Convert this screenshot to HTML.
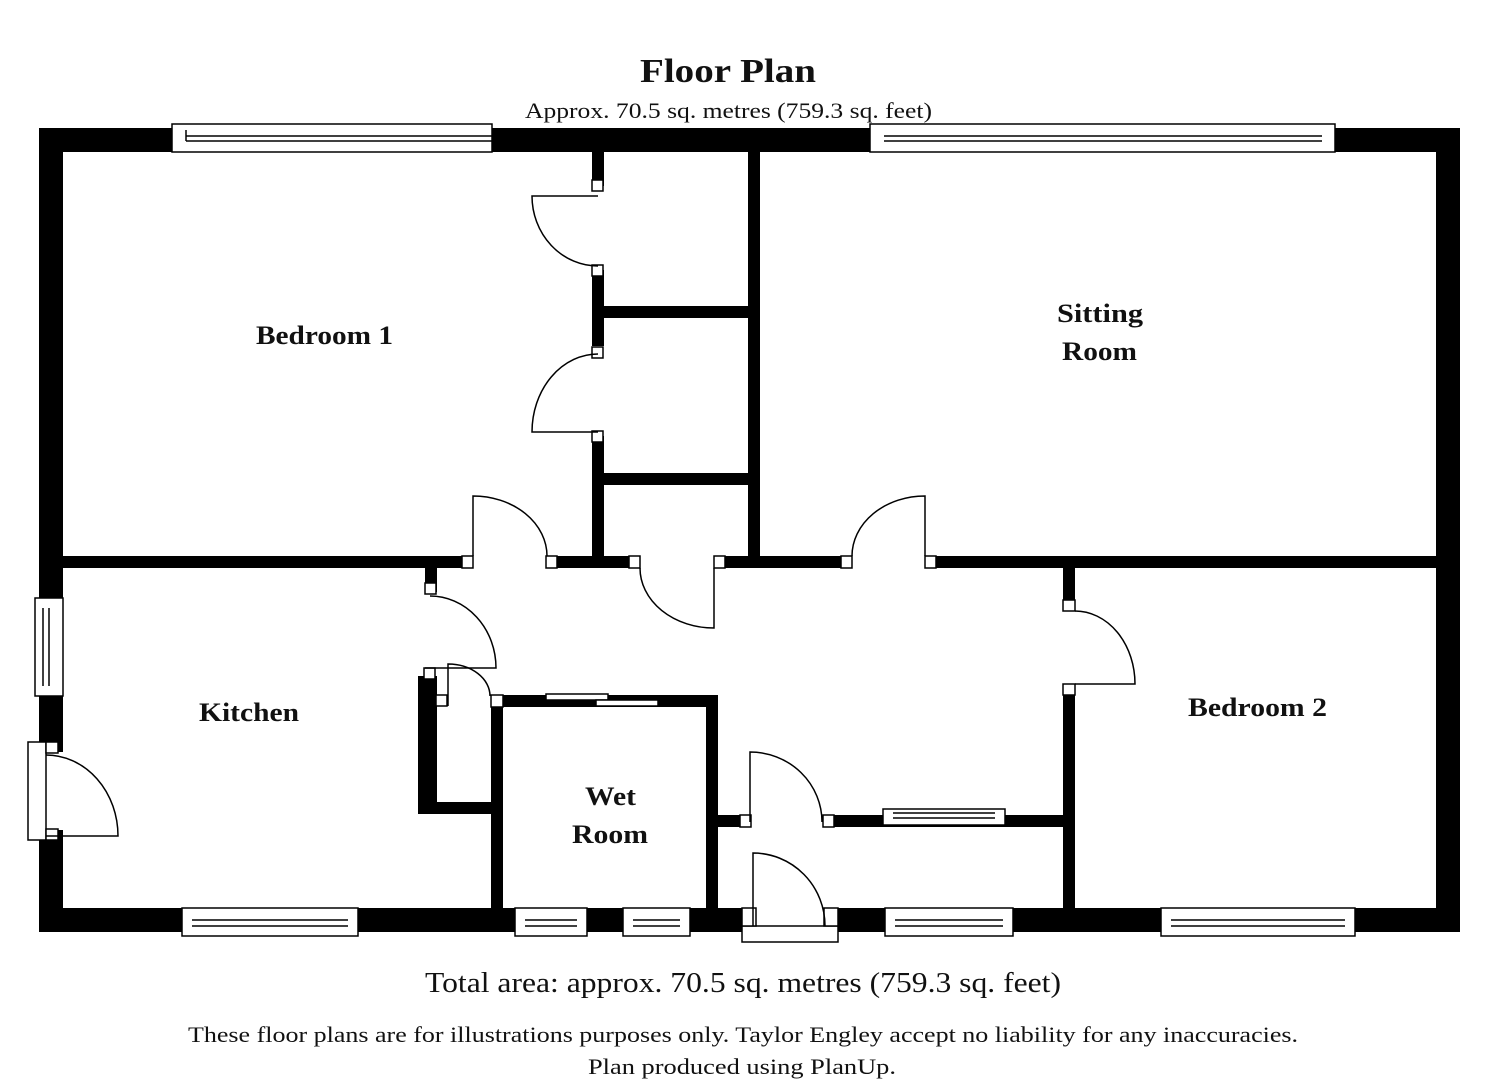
<!DOCTYPE html>
<html><head><style>
html,body{margin:0;padding:0;background:#fff;}
svg{display:block}
text{font-family:"Liberation Serif",serif;fill:#111}
</style></head><body>
<svg width="1485" height="1080" viewBox="0 0 1485 1080" xmlns="http://www.w3.org/2000/svg">
<text x="640" y="82" font-size="34" font-weight="bold" textLength="176" lengthAdjust="spacingAndGlyphs">Floor Plan</text>
<text x="525" y="118" font-size="22" textLength="407" lengthAdjust="spacingAndGlyphs">Approx.  70.5 sq. metres (759.3 sq. feet)</text>
<text x="425" y="992" font-size="28" textLength="636" lengthAdjust="spacingAndGlyphs">Total area: approx.  70.5 sq. metres (759.3 sq. feet)</text>
<text x="188" y="1042" font-size="22" textLength="1110" lengthAdjust="spacingAndGlyphs">These floor plans are for illustrations purposes only. Taylor Engley accept no liability for any inaccuracies.</text>
<text x="588" y="1074" font-size="22" textLength="308" lengthAdjust="spacingAndGlyphs">Plan produced using PlanUp.</text>

<g fill="#000">
<rect x="39" y="128" width="1421" height="24"/>
<rect x="39" y="908" width="1421" height="24"/>
<rect x="39" y="128" width="24" height="804"/>
<rect x="1436" y="128" width="24" height="804"/>
<rect x="63" y="556" width="410" height="12"/>
<rect x="548" y="556" width="92" height="12"/>
<rect x="714" y="556" width="138" height="12"/>
<rect x="932" y="556" width="504" height="12"/>
<rect x="592" y="152" width="12" height="34"/>
<rect x="592" y="270" width="12" height="76"/>
<rect x="592" y="436" width="12" height="126"/>
<rect x="604" y="306" width="146" height="12"/>
<rect x="604" y="473" width="146" height="12"/>
<rect x="748" y="152" width="12" height="404"/>
<rect x="1063" y="568" width="12" height="38"/>
<rect x="1063" y="690" width="12" height="218"/>
<rect x="425" y="568" width="12" height="24"/>
<rect x="418" y="676" width="19" height="138"/>
<rect x="418" y="802" width="80" height="12"/>
<rect x="491" y="695" width="12" height="213"/>
<rect x="491" y="695" width="227" height="12"/>
<rect x="706" y="695" width="12" height="213"/>
<rect x="718" y="815" width="22" height="12"/>
<rect x="828" y="815" width="235" height="12"/>
</g>
<g fill="#fff">
<rect x="754" y="906" width="72" height="22"/>
<rect x="46" y="752" width="19" height="78"/>
</g>

<g fill="#fff" stroke="#000" stroke-width="1.5">
<rect x="172" y="124" width="320" height="28"/>
<line x1="186" y1="136" x2="492" y2="136"/><line x1="186" y1="141" x2="492" y2="141"/><line x1="186" y1="130" x2="186" y2="141"/>
<rect x="870" y="124" width="465" height="28"/>
<line x1="884" y1="136" x2="1322" y2="136"/><line x1="884" y1="141" x2="1322" y2="141"/>
<rect x="182" y="908" width="176" height="28"/><line x1="192" y1="920" x2="348" y2="920"/><line x1="192" y1="926" x2="348" y2="926"/>
<rect x="515" y="908" width="72" height="28"/><line x1="525" y1="920" x2="577" y2="920"/><line x1="525" y1="926" x2="577" y2="926"/>
<rect x="623" y="908" width="67" height="28"/><line x1="633" y1="920" x2="680" y2="920"/><line x1="633" y1="926" x2="680" y2="926"/>
<rect x="885" y="908" width="128" height="28"/><line x1="895" y1="920" x2="1003" y2="920"/><line x1="895" y1="926" x2="1003" y2="926"/>
<rect x="1161" y="908" width="194" height="28"/><line x1="1171" y1="920" x2="1345" y2="920"/><line x1="1171" y1="926" x2="1345" y2="926"/>
<rect x="35" y="598" width="28" height="98"/><line x1="43" y1="608" x2="43" y2="686"/><line x1="49" y1="608" x2="49" y2="686"/>
<rect x="546" y="694" width="62" height="6"/><rect x="596" y="700" width="62" height="6"/>
<rect x="883" y="809" width="122" height="16"/><line x1="893" y1="813" x2="995" y2="813"/><line x1="893" y1="818" x2="995" y2="818"/>
<rect x="28" y="742" width="18" height="98"/>
<rect x="742" y="926" width="96" height="16"/>
<rect x="742" y="908" width="14" height="18"/><rect x="824" y="908" width="14" height="18"/>
<rect x="592" y="180" width="11" height="11"/><rect x="592" y="265" width="11" height="11"/>
<rect x="592" y="347" width="11" height="11"/><rect x="592" y="431" width="11" height="11"/>
<rect x="462" y="556" width="11" height="12"/><rect x="546" y="556" width="11" height="12"/>
<rect x="629" y="556" width="11" height="12"/><rect x="714" y="556" width="11" height="12"/>
<rect x="841" y="556" width="11" height="12"/><rect x="925" y="556" width="11" height="12"/>
<rect x="425" y="583" width="11" height="11"/><rect x="424" y="668" width="11" height="11"/>
<rect x="436" y="695" width="11" height="11"/><rect x="491" y="695" width="12" height="12"/>
<rect x="1063" y="600" width="12" height="11"/><rect x="1063" y="684" width="12" height="11"/>
<rect x="740" y="815" width="11" height="12"/><rect x="823" y="815" width="11" height="12"/>
<rect x="46" y="742" width="12" height="11"/><rect x="46" y="829" width="12" height="11"/>
</g>

<g fill="none" stroke="#000" stroke-width="1.5">
<path d="M598 196 H532 A66 70 0 0 0 598 266"/>
<path d="M598 432 H532 A66 78 0 0 1 598 354"/>
<path d="M473 556 V496 A74 60 0 0 1 547 556"/>
<path d="M714 568 V628 A74 60 0 0 1 640 568"/>
<path d="M925 556 V496 A73 60 0 0 0 852 556"/>
<path d="M430 596 A66 72 0 0 1 496 668 H425"/>
<path d="M448 706 V664 A42 32 0 0 1 490 696"/>
<path d="M1075 611 A60 73 0 0 1 1135 684 H1075"/>
<path d="M750 822 V752 A72 70 0 0 1 822 822"/>
<path d="M753 926 V853 A72 73 0 0 1 825 926"/>
<path d="M46 755 A72 81 0 0 1 118 836 H46"/>
</g>

<g font-size="26" font-weight="bold">
<text x="256" y="344" textLength="137" lengthAdjust="spacingAndGlyphs">Bedroom 1</text>
<text x="1057" y="322" textLength="86" lengthAdjust="spacingAndGlyphs">Sitting</text>
<text x="1062" y="360" textLength="75" lengthAdjust="spacingAndGlyphs">Room</text>
<text x="199" y="721" textLength="100" lengthAdjust="spacingAndGlyphs">Kitchen</text>
<text x="1188" y="716" textLength="139" lengthAdjust="spacingAndGlyphs">Bedroom 2</text>
<text x="585" y="805" textLength="51" lengthAdjust="spacingAndGlyphs">Wet</text>
<text x="572" y="843" textLength="76" lengthAdjust="spacingAndGlyphs">Room</text>
</g>
</svg>
</body></html>
